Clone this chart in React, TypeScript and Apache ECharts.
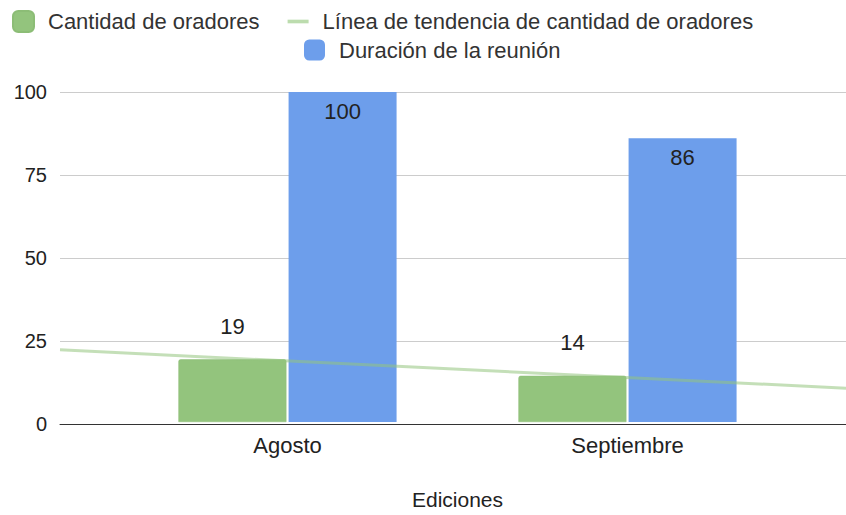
import React, { useEffect, useRef } from "react";
import * as echarts from "echarts";

const categories = ["Agosto", "Septiembre"];
const speakers = [19, 14];
const duration = [100, 86];
const yTicks = [0, 25, 50, 75, 100];

const S1 = "Cantidad de oradores";
const S2 = "Línea de tendencia de cantidad de oradores";
const S3 = "Duración de la reunión";

const FONT = "'Liberation Sans', Arial, sans-serif";

export default function App() {
  const ref = useRef<HTMLDivElement>(null);
  useEffect(() => {
    if (!ref.current) return;
    const chart = echarts.init(ref.current, undefined, { renderer: "svg" });

    // layout
    const plotLeft = 60;
    const plotRight = 846;
    const catLeft = 117.5;
    const catWidth = 680;
    const band = catWidth / categories.length;
    const xs = categories.map((_, i) => i + 1);
    const centerPx = (i: number) => catLeft + band * (i + 0.5);
    const xMin = 1 - (centerPx(0) - plotLeft) / band;
    const xMax = categories.length + (plotRight - centerPx(categories.length - 1)) / band;

    // least squares trend
    const n = xs.length;
    const mx = xs.reduce((a, b) => a + b, 0) / n;
    const my = speakers.reduce((a, b) => a + b, 0) / n;
    let num = 0, den = 0;
    xs.forEach((x, i) => { num += (x - mx) * (speakers[i] - my); den += (x - mx) * (x - mx); });
    const slope = num / den;
    const icpt = my - slope * mx;
    const trend = [[xMin, icpt + slope * xMin], [xMax, icpt + slope * xMax]];

    const textStyle = { fontFamily: FONT, fontSize: 22, color: "#222" };

    chart.setOption({
      animation: false,
      textStyle: { fontFamily: FONT },
      legend: [
        {
          left: 12, top: 10, padding: 0, itemGap: 28, itemWidth: 21, itemHeight: 21,
          textStyle: { ...textStyle, color: "#333", padding: [0, 0, 0, 9] },
          data: [
            { name: S1, icon: "roundRect" },
            { name: S2, icon: "path://M0,0H23V4H0Z" },
          ],
        },
        {
          left: 304, top: 39, padding: 0, itemWidth: 21, itemHeight: 21,
          textStyle: { ...textStyle, color: "#333", padding: [0, 0, 0, 9] },
          data: [{ name: S3, icon: "roundRect" }],
        },
      ],
      grid: [
        { left: plotLeft, right: 846 - plotRight, top: 92, bottom: 91 },
        { left: catLeft, width: catWidth, top: 92, bottom: 91 },
      ],
      xAxis: [
        {
          type: "value", gridIndex: 0, min: xMin, max: xMax,
          axisLine: { show: true, lineStyle: { color: "#333", width: 1 } },
          axisTick: { show: false }, axisLabel: { show: false }, splitLine: { show: false },
        },
        {
          type: "category", gridIndex: 1, data: categories,
          axisLine: { show: false }, axisTick: { show: false },
          axisLabel: { ...textStyle, margin: 12 },
          name: "Ediciones", nameLocation: "middle", nameGap: 67,
          nameTextStyle: { ...textStyle, fontSize: 21 },
        },
      ],
      yAxis: [
        {
          type: "value", gridIndex: 0, min: yTicks[0], max: yTicks[yTicks.length - 1], interval: 25,
          axisLine: { show: false }, axisTick: { show: false },
          axisLabel: { ...textStyle, fontSize: 20, margin: 13 },
          splitLine: { lineStyle: { color: "#cccccc", width: 1 } },
        },
        {
          type: "value", gridIndex: 1, min: yTicks[0], max: yTicks[yTicks.length - 1], interval: 25,
          show: false, splitLine: { show: false },
        },
      ],
      series: [
        {
          name: S1, type: "bar", xAxisIndex: 1, yAxisIndex: 1, data: speakers,
          barWidth: 108, barGap: "2%",
          itemStyle: { color: "#93c47d", borderColor: "#8cbd76", borderWidth: 0.5, borderRadius: [2, 2, 0, 0] },
          label: { show: true, position: "top", distance: 22, ...textStyle },
          z: 2,
        },
        {
          name: S3, type: "bar", xAxisIndex: 1, yAxisIndex: 1, data: duration,
          barWidth: 108,
          itemStyle: { color: "#6d9eeb" },
          label: { show: true, position: "insideTop", distance: 8, ...textStyle },
          z: 2,
        },
        {
          name: S2, type: "line", xAxisIndex: 0, yAxisIndex: 0, data: trend,
          showSymbol: false, symbol: "none", color: "#bcdcae",
          lineStyle: { color: "#93c47d", width: 3, opacity: 0.55 },
          z: 5, silent: true,
        },
      ],
    });
    return () => chart.dispose();
  }, []);
  return <div ref={ref} style={{ width: 846, height: 515, position: "absolute", left: 0, top: 0 }} />;
}
